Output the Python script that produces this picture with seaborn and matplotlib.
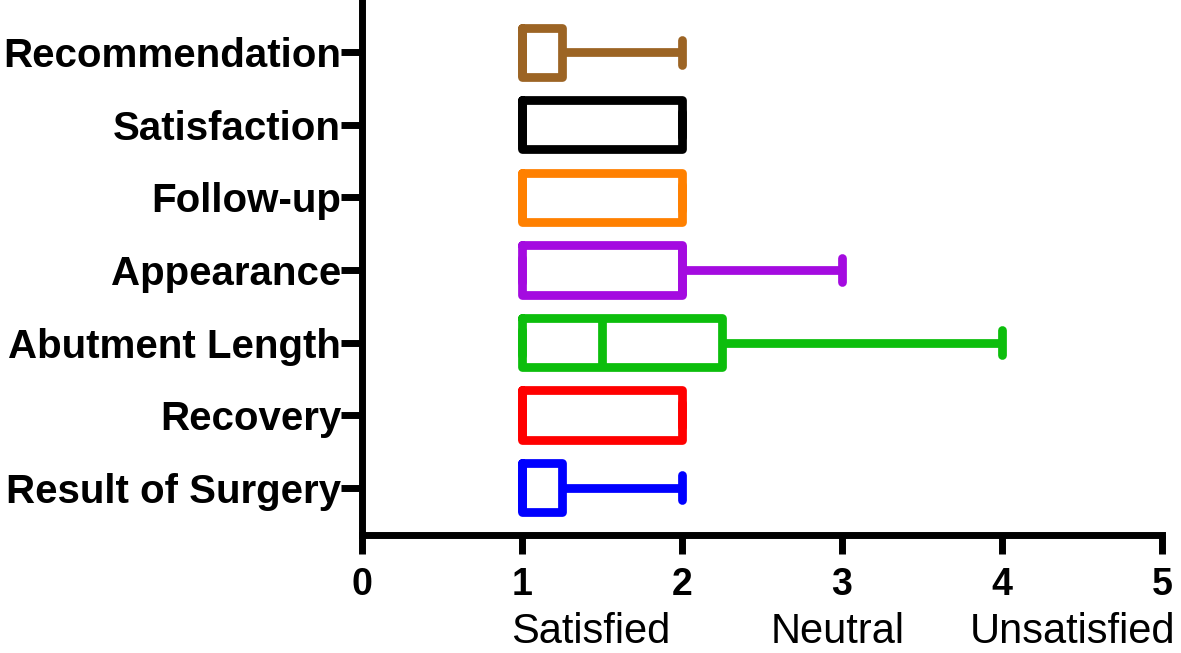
import pandas as pd
import numpy as np
import matplotlib.pyplot as plt
import matplotlib.transforms as mtransforms
import seaborn as sns

# Likert responses (1 = satisfied ... 5 = unsatisfied)
categories = ["Recommendation", "Satisfaction", "Follow-up", "Appearance",
              "Abutment Length", "Recovery", "Result of Surgery"]
recommendation = [1, 1, 1, 2]
satisfaction = [1, 1, 1, 2, 2]
follow_up = [1, 1, 1, 2, 2]
appearance = [1, 1, 2, 2, 3]
abutment_length = [1, 1, 1, 1, 2, 2, 3, 4]
recovery = [1, 1, 1, 2, 2]
result_of_surgery = [1, 1, 1, 2]
colors = ["#9C6424", "#000000", "#FF8000", "#A40BE0", "#0CBE0C", "#FF0000", "#0000FF"]
xticks = [0, 1, 2, 3, 4, 5]
scale_labels = ["Satisfied", "Neutral", "Unsatisfied"]
scale_pos = [1.43, 2.97, 4.44]

responses = [recommendation, satisfaction, follow_up, appearance,
             abutment_length, recovery, result_of_surgery]
df = pd.DataFrame({
    "item": np.repeat(categories, [len(r) for r in responses]),
    "score": np.concatenate(responses),
})

sns.set_style("ticks", {"axes.edgecolor": "black", "text.color": "black",
                        "xtick.color": "black", "ytick.color": "black"})
plt.rcParams['font.family'] = ['Liberation Sans', 'DejaVu Sans']

fig = plt.figure(figsize=(11.81, 6.53), dpi=100)
ax = fig.add_axes([0.3065, 0.181, 0.6775, 0.819])

sns.boxplot(data=df, x="score", y="item", hue="item", order=categories,
            hue_order=categories, palette=colors, fill=False, orient="h",
            whis=(0, 100), width=0.68, linewidth=6.3, capwidths=0.34,
            capprops=dict(solid_capstyle="round"),
            legend=False, ax=ax)

ax.set_xlim(0, 5)
ax.set_ylim(6.65, -0.72)
ax.set_xticks(xticks)
ax.set_xlabel("")
ax.set_ylabel("")
sns.despine(ax=ax)
for s in ["left", "bottom"]:
    ax.spines[s].set_linewidth(5)
ax.tick_params(axis="y", length=15, width=5, pad=0, colors="black")
ax.tick_params(axis="x", length=14, width=5, pad=9, colors="black")
for lab in ax.get_yticklabels():
    lab.set_fontsize(29)
    lab.set_fontweight("bold")
for lab in ax.get_xticklabels():
    lab.set_fontsize(27)
    lab.set_fontweight("bold")

trans = mtransforms.blended_transform_factory(ax.transData, fig.transFigure)
for lab, xp in zip(scale_labels, scale_pos):
    ax.text(xp, 0.002, lab, transform=trans, ha="center", va="bottom",
            fontsize=30, color="black")

plt.savefig("out.png", dpi=100)
plt.close()
